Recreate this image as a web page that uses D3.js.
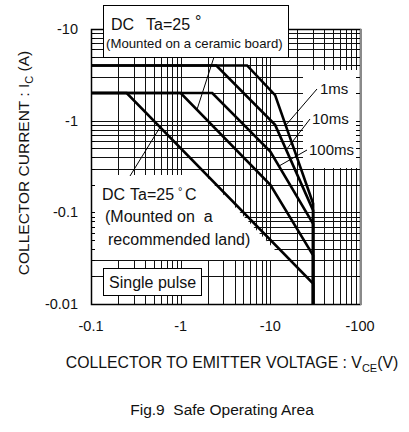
<!DOCTYPE html>
<html>
<head>
<meta charset="utf-8">
<script src="https://cdn.jsdelivr.net/npm/d3@7/dist/d3.min.js"></script>
<style>
body { margin: 0; background: #fff; }
text { font-family: "Liberation Sans", Arial, sans-serif; fill: #111; }
</style>
</head>
<body>
<div id="chart"></div>
<script>
// axis ticks (magnitudes, printed with a minus sign)
var xTickVals = [0.1, 1, 10, 100];
var xTickLabels = ["-0.1", "-1", "-10", "-100"];
var yTickVals = [10, 1, 0.1, 0.01];
var yTickLabels = ["-10", "-1", "-0.1", "-0.01"];

// SOA boundaries, |Vce| (V) and |Ic| (A)
var vce1ms = [0.1, 5.5, 11.3, 30, 30];
var ic1ms = [4, 4, 1.9, 0.125, 0.01];
var vce10ms = [0.1, 2.5, 11.3, 30, 30];
var ic10ms = [4, 4, 0.9, 0.105, 0.01];
var vce100ms = [0.1, 2.25, 10, 30, 30];
var ic100ms = [2, 2, 0.46, 0.075, 0.01];
var vceCeramic = [0.1, 1, 10, 30, 30];
var icCeramic = [2, 2, 0.2, 0.034, 0.01];
var vceLand = [0.1, 0.25, 30, 30];
var icLand = [2, 2, 0.0167, 0.01];

// points on the curves where the label pointers end
var pointerV = [15, 15, 12.5, 1.52, 0.59];
var pointerI = [0.9, 0.48, 0.32, 1.32, 0.85];

var margin = {top: 29, left: 91},
    width = 269,
    height = 275;

var svg = d3.select("#chart").append("svg")
    .attr("width", 409)
    .attr("height", 432);

svg.append("rect").attr("width", 409).attr("height", 432).attr("fill", "#fff");

var g = svg.append("g")
    .attr("transform", "translate(" + margin.left + "," + margin.top + ")");

var x = d3.scaleLog().domain([0.1, 100]).range([0, width]);
var y = d3.scaleLog().domain([0.01, 10]).range([height, 0]);

function px(v) { return Math.round(x(v)) + 0.5; }
function py(v) { return Math.round(y(v)) + 0.5; }

// log grid
g.selectAll(".vgrid")
  .data(x.ticks())
  .enter().append("line")
    .attr("x1", px).attr("x2", px)
    .attr("y1", 0).attr("y2", height)
    .attr("stroke", "#111").attr("stroke-width", 1);

g.selectAll(".hgrid")
  .data(y.ticks())
  .enter().append("line")
    .attr("y1", py).attr("y2", py)
    .attr("x1", 0).attr("x2", width)
    .attr("stroke", "#111").attr("stroke-width", 1);

// white areas behind the labels
g.append("rect")
  .attr("x", 212).attr("y", 41)
  .attr("width", 56).attr("height", 98)
  .attr("fill", "#fff");

g.append("polygon")
  .attr("points", "0,146 114,146 184,221 184,231 0,231")
  .attr("fill", "#fff");

// frame
g.append("rect")
  .attr("x", 0.5).attr("y", 0.5)
  .attr("width", width).attr("height", height)
  .attr("fill", "none")
  .attr("stroke", "#000").attr("stroke-width", 1.5);

g.append("line")
  .attr("x1", width + 1).attr("x2", width + 1)
  .attr("y1", 0).attr("y2", height + 1)
  .attr("stroke", "#8a8a8a").attr("stroke-width", 2);

// small inner ticks on the left and right edges
g.selectAll(".ltick")
  .data(y.ticks())
  .enter().append("line")
    .attr("x1", 0).attr("x2", 4)
    .attr("y1", py).attr("y2", py)
    .attr("stroke", "#000");

g.selectAll(".rtick")
  .data(y.ticks())
  .enter().append("line")
    .attr("x1", width - 4).attr("x2", width)
    .attr("y1", py).attr("y2", py)
    .attr("stroke", "#000");

// curves
var curves = [
  d3.zip(vce1ms, ic1ms),
  d3.zip(vce10ms, ic10ms),
  d3.zip(vce100ms, ic100ms),
  d3.zip(vceCeramic, icCeramic),
  d3.zip(vceLand, icLand)
];

var line = d3.line()
  .x(function(d) { return x(d[0]); })
  .y(function(d) { return y(d[1]); });

g.selectAll(".soa")
  .data(curves)
  .enter().append("path")
    .attr("d", line)
    .attr("fill", "none")
    .attr("stroke", "#000")
    .attr("stroke-width", 2.6)
    .attr("stroke-linejoin", "miter");

// top label box
svg.append("rect")
  .attr("x", 103.5).attr("y", 5.5)
  .attr("width", 185).attr("height", 52)
  .attr("fill", "#fff").attr("stroke", "#000");

var t1 = svg.append("text").attr("y", 30).style("font-size", "16px");
t1.append("tspan").attr("x", 111).text("DC");
t1.append("tspan").attr("x", 146).text("Ta=25");
t1.append("tspan").attr("x", 195).attr("dy", -3).text("°");

svg.append("text")
  .attr("x", 106).attr("y", 48)
  .style("font-size", "13.2px")
  .text("(Mounted on a ceramic board)");

// recommended land label
var t2 = svg.append("text").attr("y", 200).style("font-size", "16px");
t2.append("tspan").attr("x", 102).text("DC");
t2.append("tspan").attr("x", 130).text("Ta=25");
t2.append("tspan").attr("x", 178).attr("dy", -5).style("font-size", "11px").text("°");
t2.append("tspan").attr("x", 185).attr("dy", 5).text("C");

svg.append("text").attr("x", 105).attr("y", 222).style("font-size", "16px")
  .attr("xml:space", "preserve").text("(Mounted on  a");
svg.append("text").attr("x", 108).attr("y", 245).style("font-size", "16px")
  .text("recommended land)");

// single pulse box
svg.append("rect")
  .attr("x", 103.5).attr("y", 268.5)
  .attr("width", 98).attr("height", 27)
  .attr("fill", "#fff").attr("stroke", "#000");

svg.append("text").attr("x", 109).attr("y", 288).style("font-size", "16px")
  .text("Single pulse");

// pulse width labels
var pulseLabels = ["1ms", "10ms", "100ms"];
var pulseLabelX = [320, 312, 309];
var pulseLabelY = [94, 124, 155];
var pointerStart = [[317, 89], [310, 119], [307, 150], [214, 57], [130, 176]];

svg.selectAll(".plabel")
  .data(pulseLabels)
  .enter().append("text")
    .attr("x", function(d, i) { return pulseLabelX[i]; })
    .attr("y", function(d, i) { return pulseLabelY[i]; })
    .style("font-size", "15px")
    .text(function(d) { return d; });

svg.selectAll(".pointer")
  .data(pointerV)
  .enter().append("line")
    .attr("x1", function(d, i) { return pointerStart[i][0]; })
    .attr("y1", function(d, i) { return pointerStart[i][1]; })
    .attr("x2", function(d) { return margin.left + x(d); })
    .attr("y2", function(d, i) { return margin.top + y(pointerI[i]); })
    .attr("stroke", "#000").attr("stroke-width", 1);

// tick labels
svg.selectAll(".xlabel")
  .data(xTickVals)
  .enter().append("text")
    .attr("x", function(d) { return margin.left + x(d); })
    .attr("y", 331)
    .attr("text-anchor", "middle")
    .style("font-size", "14.5px")
    .text(function(d, i) { return xTickLabels[i]; });

svg.selectAll(".ylabel")
  .data(yTickVals)
  .enter().append("text")
    .attr("x", 78)
    .attr("y", function(d) { return margin.top + y(d); })
    .attr("dy", "0.35em")
    .attr("text-anchor", "end")
    .style("font-size", "14.5px")
    .text(function(d, i) { return yTickLabels[i]; });

// axis titles
var xt = svg.append("text")
  .attr("x", 232).attr("y", 368)
  .attr("text-anchor", "middle")
  .style("font-size", "15.8px");
xt.append("tspan").text("COLLECTOR TO EMITTER VOLTAGE : V");
xt.append("tspan").attr("dy", 4).style("font-size", "11px").text("CE");
xt.append("tspan").attr("dy", -4).text("(V)");

var yt = svg.append("text")
  .attr("transform", "translate(29,163) rotate(-90)")
  .attr("text-anchor", "middle")
  .style("font-size", "15.5px");
yt.append("tspan").text("COLLECTOR CURRENT : I");
yt.append("tspan").attr("dy", 4).style("font-size", "11px").text("C");
yt.append("tspan").attr("dy", -4).text(" (A)");

// caption
svg.append("text")
  .attr("x", 222).attr("y", 415)
  .attr("text-anchor", "middle")
  .attr("xml:space", "preserve")
  .style("font-size", "15.5px")
  .text("Fig.9  Safe Operating Area");
</script>
</body>
</html>
